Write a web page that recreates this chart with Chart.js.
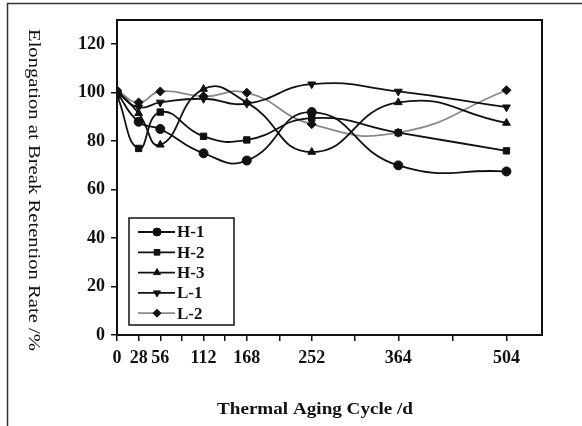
<!DOCTYPE html>
<html lang="en">
<head>
<meta charset="UTF-8">
<title>Elongation at Break Retention Rate</title>
<script src="https://cdn.jsdelivr.net/npm/chart.js"></script>
<style>
  html, body { margin: 0; padding: 0; background: #fff; }
</style>
</head>
<body>
<canvas id="agingChart" width="582" height="426"></canvas>
<script>
// thermal aging days and retention values (%)
const days = [0, 28, 56, 112, 168, 252, 364, 504];
const h1 = [100, 88, 85, 75, 72, 92, 70, 67.5];
const h2 = [99, 77, 92, 82, 80.5, 89.5, 83.5, 76];
const h3 = [101, 91.5, 78.5, 101.5, 96, 75.5, 96, 87.5];
const l1 = [100, 94, 96, 97.5, 95.5, 103.5, 100.5, 94];
const l2 = [101, 96, 100.5, 98.5, 100, 87, 83.5, 101];

const seriesNames = ['H-1', 'H-2', 'H-3', 'L-1', 'L-2'];
const xTicks = [0, 28, 56, 84, 112, 140, 168, 210, 252, 308, 364, 434, 504];
const xLabels = [0, 28, 56, 112, 168, 252, 364, 504];
const yLabels = [0, 20, 40, 60, 80, 100, 120];

const serif = "'Liberation Serif', 'DejaVu Serif', serif";

function pts(values) {
    return days.map((d, i) => ({ x: d, y: values[i] }));
}

function series(label, values, style, rotation, lineColor) {
    return {
        label: label,
        data: pts(values),
        borderColor: lineColor,
        borderWidth: 1.8,
        pointStyle: style,
        pointRotation: rotation,
        pointRadius: 4.5,
        pointBackgroundColor: '#111',
        pointBorderColor: '#111',
        pointBorderWidth: 1,
        tension: 0.5,
        fill: false,
    };
}

const framePlugin = {
    id: 'frame',
    beforeDraw(chart) {
        const ctx = chart.ctx;
        ctx.save();
        ctx.fillStyle = '#fff';
        ctx.fillRect(0, 0, chart.width, chart.height);
        ctx.strokeStyle = '#333';
        ctx.lineWidth = 1.5;
        ctx.beginPath();
        ctx.moveTo(7.5, chart.height);
        ctx.lineTo(7.5, 3.5);
        ctx.lineTo(chart.width, 3.5);
        ctx.stroke();
        ctx.restore();
    },
    afterDraw(chart) {
        const ctx = chart.ctx;
        const a = chart.chartArea;
        ctx.save();
        ctx.strokeStyle = '#111';
        ctx.lineWidth = 2;
        ctx.strokeRect(a.left, a.top, a.right - a.left, a.bottom - a.top);

        // y title, reads top to bottom
        ctx.fillStyle = '#111';
        ctx.font = "17px " + serif;
        ctx.textAlign = 'center';
        ctx.textBaseline = 'middle';
        const yTitle = 'Elongation at Break Retention Rate /%';
        ctx.save();
        ctx.translate(33, 190);
        ctx.rotate(Math.PI / 2);
        const yw = ctx.measureText(yTitle).width;
        ctx.scale(322 / yw, 1);
        ctx.fillText(yTitle, 0, 0);
        ctx.restore();

        // x title
        ctx.font = "bold 17px " + serif;
        const xTitle = 'Thermal Aging Cycle /d';
        ctx.save();
        ctx.translate(315, 410);
        const xw = ctx.measureText(xTitle).width;
        ctx.scale(196 / xw, 1);
        ctx.fillText(xTitle, 0, 0);
        ctx.restore();

        // legend box in lower left of the plot
        ctx.lineWidth = 1.5;
        ctx.strokeRect(129, 218, 105, 107);
        ctx.font = "bold 17px " + serif;
        ctx.textAlign = 'left';
        chart.data.datasets.forEach((ds, i) => {
            const y = 232 + i * 20.3;
            ctx.strokeStyle = ds.borderColor;
            ctx.lineWidth = ds.borderWidth;
            ctx.beginPath();
            ctx.moveTo(138, y);
            ctx.lineTo(175, y);
            ctx.stroke();
            ctx.fillStyle = '#111';
            ctx.strokeStyle = '#111';
            ctx.lineWidth = 1;
            Chart.helpers.drawPoint(ctx, {
                pointStyle: ds.pointStyle,
                rotation: ds.pointRotation,
                radius: 4,
                borderWidth: 1,
            }, 157, y);
            ctx.fillText(ds.label, 177, y + 1);
        });
        ctx.restore();
    }
};

const ctx = document.getElementById('agingChart').getContext('2d');
new Chart(ctx, {
    type: 'line',
    data: {
        datasets: [
            series(seriesNames[0], h1, 'circle', 0, '#111'),
            series(seriesNames[1], h2, 'rect', 0, '#111'),
            series(seriesNames[2], h3, 'triangle', 0, '#111'),
            series(seriesNames[3], l1, 'triangle', 180, '#111'),
            series(seriesNames[4], l2, 'rectRot', 0, '#8a8a8a'),
        ]
    },
    options: {
        responsive: false,
        animation: false,
        layout: { padding: { left: 0, top: 20, right: 40, bottom: 0 } },
        plugins: {
            legend: { display: false },
            tooltip: { enabled: false },
        },
        scales: {
            x: {
                type: 'linear',
                min: 0,
                max: 550,
                afterFit(scale) { scale.height = 91; },
                afterBuildTicks(scale) {
                    scale.ticks = xTicks.map(v => ({ value: v }));
                },
                ticks: {
                    autoSkip: false,
                    maxRotation: 0,
                    padding: 7,
                    color: '#111',
                    font: { family: serif, size: 18, weight: 'bold' },
                    callback: v => xLabels.includes(v) ? String(v) : '',
                },
                grid: { drawOnChartArea: false, tickLength: 6, color: '#111', lineWidth: 1.5 },
                border: { color: '#111', width: 2 },
            },
            y: {
                min: 0,
                max: 130,
                afterFit(scale) { scale.width = 117; },
                ticks: {
                    stepSize: 10,
                    padding: 6,
                    color: '#111',
                    font: { family: serif, size: 18, weight: 'bold' },
                    callback: v => yLabels.includes(v) ? String(v) : '',
                },
                grid: { drawOnChartArea: false, tickLength: 6, color: '#111', lineWidth: 1.5 },
                border: { color: '#111', width: 2 },
            }
        }
    },
    plugins: [framePlugin]
});
</script>
</body>
</html>
